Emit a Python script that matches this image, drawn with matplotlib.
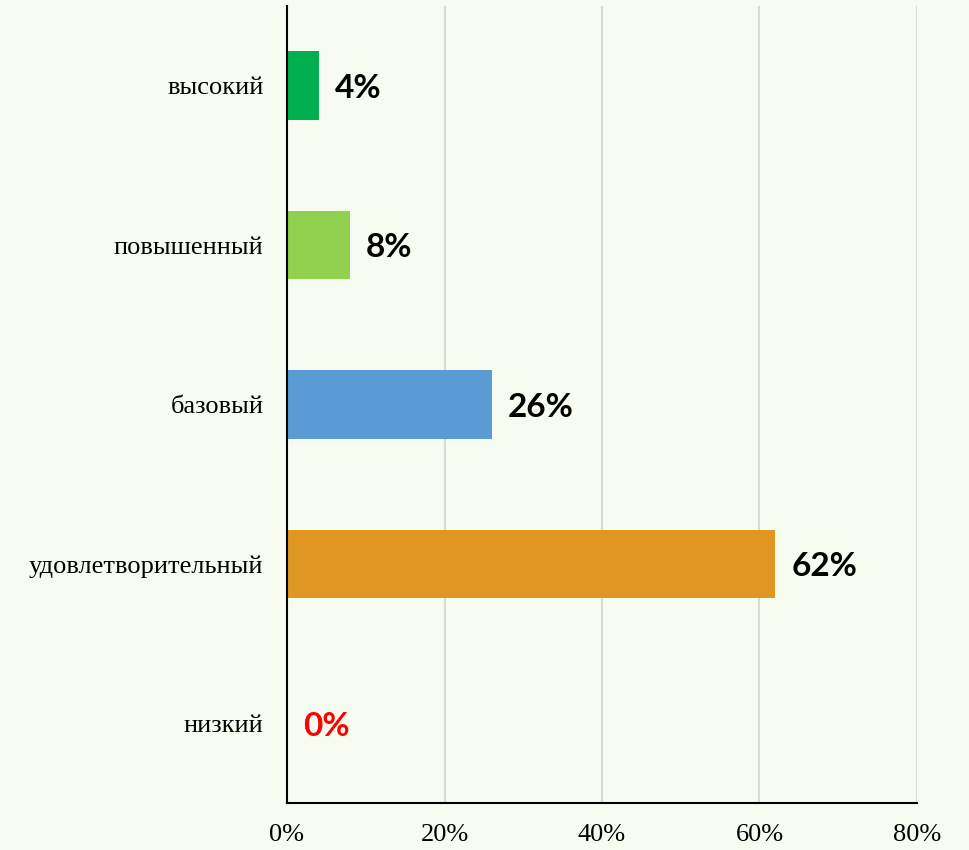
import matplotlib.pyplot as plt
import numpy as np

# Data (top to bottom as in the chart)
categories = ["высокий", "повышенный", "базовый", "удовлетворительный", "низкий"]
values = [0.04, 0.08, 0.26, 0.62, 0.0]
bar_colors = ["#00B050", "#92D050", "#5B9BD5", "#E09722", "#E09722"]
label_colors = ["black", "black", "black", "black", "#FF0000"]
xticks = [0.0, 0.2, 0.4, 0.6, 0.8]
xtick_labels = ["0%", "20%", "40%", "60%", "80%"]

bg = "#F6FCEF"

fig = plt.figure(figsize=(9.69, 8.5), dpi=100)
fig.patch.set_facecolor(bg)
ax = fig.add_axes([287 / 969, 47 / 850, 630 / 969, 797 / 850])
ax.set_facecolor(bg)

y = np.arange(len(categories))
ax.barh(y, values, height=0.43, color=bar_colors, zorder=3)

# value labels
for yi, v, c in zip(y, values, label_colors):
    ax.annotate(f"{v * 100:.0f}%", xy=(v, yi), xytext=(11.5, -2),
                textcoords="offset points", va="center", ha="left",
                fontsize=24, fontweight="bold", family="Lato", color=c)

ax.set_ylim(len(categories) - 0.5, -0.5)
ax.set_xlim(0, 0.8)
ax.set_yticks(y)
ax.set_yticklabels(categories, family="Liberation Serif", fontsize=19)
ax.set_xticks(xticks)
ax.set_xticklabels(xtick_labels, family="Liberation Serif", fontsize=19)
ax.tick_params(axis="y", length=0, pad=17)
ax.tick_params(axis="x", length=0, pad=15)

ax.grid(axis="x", color="#D9D9D9", linewidth=1.5, zorder=0)
ax.set_axisbelow(True)
for s in ["top", "right"]:
    ax.spines[s].set_visible(False)
for s in ["left", "bottom"]:
    ax.spines[s].set_color("black")
    ax.spines[s].set_linewidth(1.5)
    ax.spines[s].set_zorder(4)

fig.savefig("out.png", dpi=100, facecolor=bg)
